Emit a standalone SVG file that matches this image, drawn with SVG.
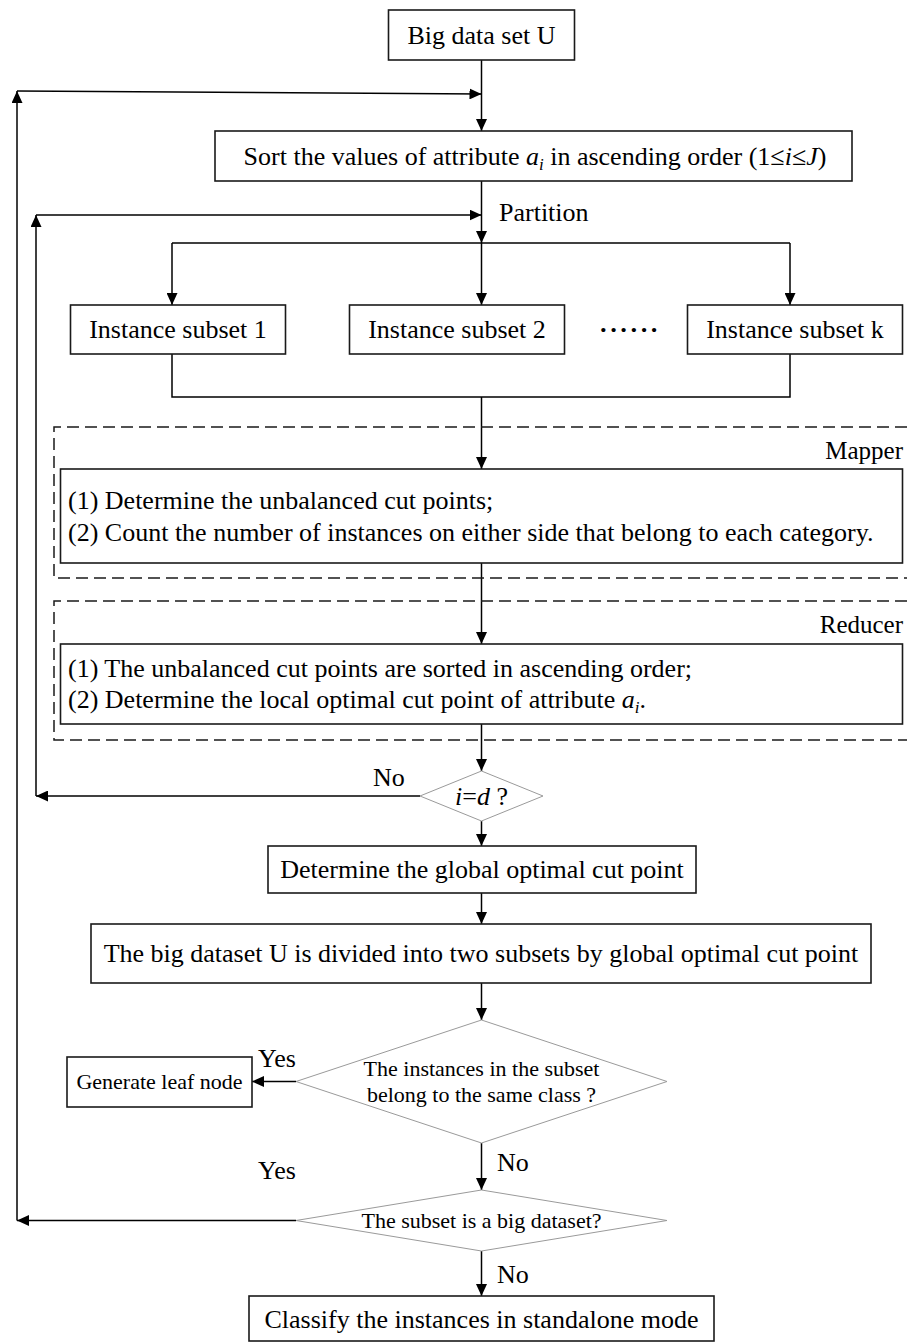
<svg xmlns="http://www.w3.org/2000/svg" width="907" height="1343" viewBox="0 0 907 1343">
<defs>
<marker id="ah" viewBox="0 0 12 11" refX="12" refY="5.5" markerWidth="12" markerHeight="11" markerUnits="userSpaceOnUse" orient="auto">
<path d="M0,0 L12,5.5 L0,11 z" fill="#000"/>
</marker>
<style>
text{font-family:"Liberation Serif","Times New Roman",serif;font-size:26px;fill:#000}
.c{text-anchor:middle}
.s{font-size:22px}
.lab{font-size:25px;text-anchor:end}
.box{fill:#fff;stroke:#1a1a1a;stroke-width:1.6}
.dia{fill:#fff;stroke:#9a9a9a;stroke-width:1}
.dash{fill:none;stroke:#1a1a1a;stroke-width:1.5;stroke-dasharray:12 6}
.ln{fill:none;stroke:#000;stroke-width:1.5}
.ar{fill:none;stroke:#000;stroke-width:1.5;marker-end:url(#ah)}
.it{font-style:italic}
</style>
</defs>
<rect width="907" height="1343" fill="#fff"/>

<g id="connectors">
<line class="ar" x1="481.5" y1="60" x2="481.5" y2="131"/>
<line class="ar" x1="296" y1="1220.5" x2="17" y2="1220.5"/>
<line class="ar" x1="17" y1="1220.5" x2="17" y2="91"/>
<line class="ar" x1="17" y1="91" x2="481.5" y2="94"/>
<line class="ar" x1="420" y1="796" x2="36" y2="796"/>
<line class="ar" x1="36" y1="796" x2="36" y2="215"/>
<line class="ar" x1="36" y1="215" x2="481.5" y2="215"/>
<line class="ar" x1="481.5" y1="181" x2="481.5" y2="243"/>
<path class="ln" d="M172,243 H790"/>
<line class="ar" x1="172" y1="243" x2="172" y2="305"/>
<line class="ar" x1="481.5" y1="243" x2="481.5" y2="305"/>
<line class="ar" x1="790" y1="243" x2="790" y2="305"/>
<path class="ln" d="M172,354 V397 H790 V354"/>
<line class="ar" x1="481.5" y1="397" x2="481.5" y2="469"/>
<line class="ar" x1="481.5" y1="563" x2="481.5" y2="644"/>
<line class="ar" x1="481.5" y1="724" x2="481.5" y2="771"/>
<line class="ar" x1="481.5" y1="821" x2="481.5" y2="846"/>
<line class="ar" x1="481.5" y1="893" x2="481.5" y2="924"/>
<line class="ar" x1="481.5" y1="983" x2="481.5" y2="1020"/>
<line class="ar" x1="296" y1="1081.5" x2="252" y2="1081.5"/>
<line class="ar" x1="481.5" y1="1143" x2="481.5" y2="1190"/>
<line class="ar" x1="481.5" y1="1251" x2="481.5" y2="1296"/>
<text x="499" y="221">Partition</text>
<text x="373" y="786">No</text>
<text x="258" y="1067">Yes</text>
<text x="497" y="1171">No</text>
<text x="258" y="1179">Yes</text>
<text x="497" y="1283">No</text>
</g>

<g id="n_bigdata">
<rect class="box" x="388.5" y="10" width="186" height="50"/>
<text class="c" x="481.5" y="44">Big data set U</text>
</g>

<g id="n_sort">
<rect class="box" x="215" y="131" width="637" height="50"/>
<text class="c" x="535" y="165">Sort the values of attribute <tspan class="it">a</tspan><tspan class="it" font-size="17" dy="5">i</tspan><tspan dy="-5"> in ascending order (1≤</tspan><tspan class="it">i</tspan>≤<tspan class="it">J</tspan>)</text>
</g>

<g id="n_sub1">
<rect class="box" x="70.5" y="305" width="215" height="49"/>
<text class="c" x="178" y="338">Instance subset 1</text>
</g>
<g id="n_sub2">
<rect class="box" x="349.5" y="305" width="215" height="49"/>
<text class="c" x="457" y="338">Instance subset 2</text>
</g>
<g id="n_dots">
<text class="c" x="629.5" y="338" font-weight="bold" letter-spacing="1.5">······</text>
</g>
<g id="n_subk">
<rect class="box" x="687.5" y="305" width="215" height="49"/>
<text class="c" x="795" y="338">Instance subset k</text>
</g>

<g id="g_mapper">
<path class="dash" d="M907,427 H54 V578 H907"/>
<text class="lab" x="903" y="459">Mapper</text>
<rect class="box" x="60.5" y="469" width="842" height="94"/>
<text x="68" y="509">(1) Determine the unbalanced cut points;</text>
<text x="68" y="541">(2) Count the number of instances on either side that belong to each category.</text>
</g>

<g id="g_reducer">
<path class="dash" d="M907,601 H54 V740 H907"/>
<text class="lab" x="903" y="633">Reducer</text>
<rect class="box" x="60.5" y="644" width="842" height="80"/>
<text x="68" y="677">(1) The unbalanced cut points are sorted in ascending order;</text>
<text x="68" y="708">(2) Determine the local optimal cut point of attribute <tspan class="it">a</tspan><tspan class="it" font-size="17" dy="5">i</tspan><tspan dy="-5">.</tspan></text>
</g>

<g id="d_id">
<polygon class="dia" points="481.5,771 543,796 481.5,821 420,796"/>
<text class="c" x="481.5" y="805"><tspan class="it">i</tspan>=<tspan class="it">d</tspan> ?</text>
</g>

<g id="n_global">
<rect class="box" x="268" y="846" width="428" height="47"/>
<text class="c" x="482" y="878">Determine the global optimal cut point</text>
</g>

<g id="n_divide">
<rect class="box" x="91" y="924" width="780" height="59"/>
<text class="c" x="481" y="962">The big dataset U is divided into two subsets by global optimal cut point</text>
</g>

<g id="d_same">
<polygon class="dia" points="481.5,1020 667,1081.5 481.5,1143 296,1081.5"/>
<text class="c s" x="481.5" y="1076">The instances in the subset</text>
<text class="c s" x="481.5" y="1102">belong to the same class ?</text>
</g>

<g id="n_leaf">
<rect class="box" x="67" y="1057" width="185" height="50"/>
<text class="c s" x="159.5" y="1089">Generate leaf node</text>
</g>

<g id="d_big">
<polygon class="dia" points="481.5,1190 667,1220.5 481.5,1251 296,1220.5"/>
<text class="c s" x="481.5" y="1228">The subset is a big dataset?</text>
</g>

<g id="n_classify">
<rect class="box" x="249" y="1296" width="465" height="45"/>
<text class="c" x="481.5" y="1328">Classify the instances in standalone mode</text>
</g>
</svg>
